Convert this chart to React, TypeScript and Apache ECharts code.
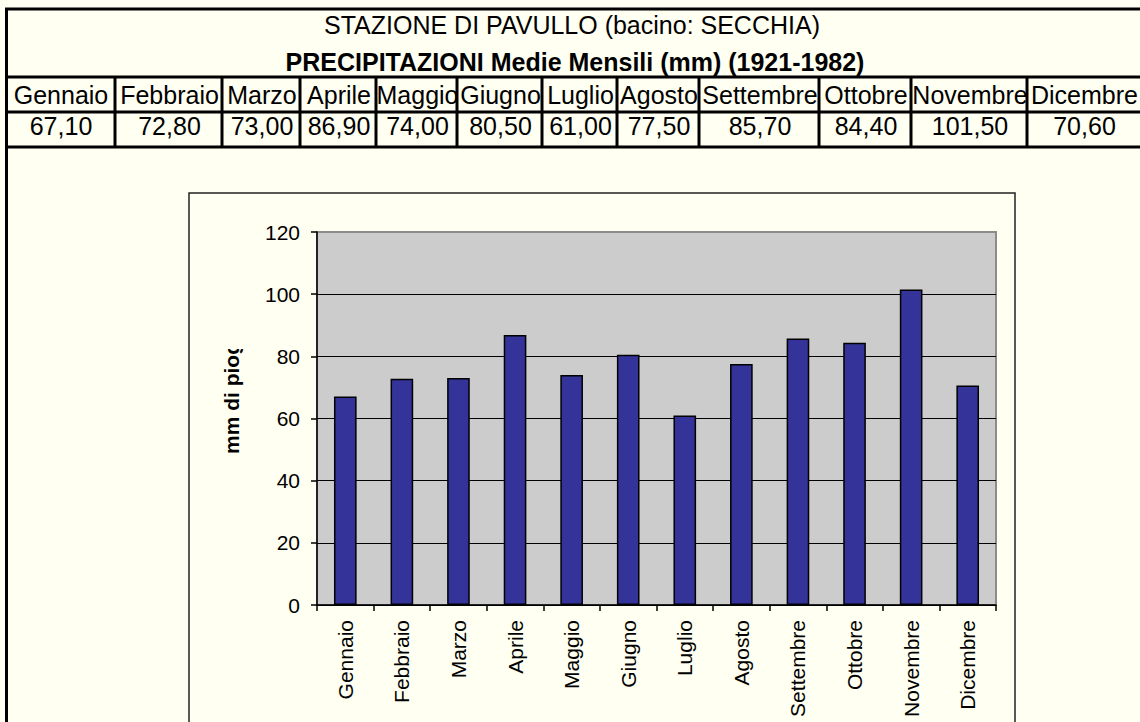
import React, { useEffect, useRef } from "react";
import * as echarts from "echarts";

// ---- data ----
const months = [
  "Gennaio", "Febbraio", "Marzo", "Aprile", "Maggio", "Giugno",
  "Luglio", "Agosto", "Settembre", "Ottobre", "Novembre", "Dicembre",
];
const rainfall = [67.1, 72.8, 73.0, 86.9, 74.0, 80.5, 61.0, 77.5, 85.7, 84.4, 101.5, 70.6];
const titleLine1 = "STAZIONE DI PAVULLO (bacino: SECCHIA)";
const titleLine2 = "PRECIPITAZIONI Medie Mensili (mm) (1921-1982)";
const yAxisName = "mm di pioggia";
const yMin = 0;
const yMax = 120;
const yStep = 20;

// ---- layout (page coordinates) ----
const COL_EDGES = [5, 115, 222, 300, 376, 457, 542, 617, 699, 819, 911, 1027, 1140];
const FONT = "'Liberation Sans', Arial, sans-serif";
const BG = "#FFFFF2";

function fmt(v: number): string {
  return v.toFixed(2).replace(".", ",");
}

export default function App() {
  const ref = useRef<HTMLDivElement>(null);

  useEffect(() => {
    document.body.style.margin = "0";
    document.body.style.background = BG;
    if (!ref.current) return;
    const chart = echarts.init(ref.current, null, { renderer: "svg" });

    const graphics: any[] = [];
    const line = (x1: number, y1: number, x2: number, y2: number, w = 3, color = "#000") =>
      graphics.push({
        type: "line",
        shape: { x1, y1, x2, y2 },
        style: { stroke: color, lineWidth: w },
        z: 10,
      });

    // table borders
    line(5, 9, 1140, 9);
    line(6.5, 8, 6.5, 722);
    line(5, 77, 1140, 77);
    line(5, 112, 1140, 112);
    line(5, 147, 1140, 147);
    for (let i = 1; i < COL_EDGES.length - 1; i++) {
      line(COL_EDGES[i], 77, COL_EDGES[i], 147);
    }

    // titles
    graphics.push({
      type: "text",
      x: 572,
      y: 25,
      style: { text: titleLine1, font: `25px ${FONT}`, fill: "#000", textAlign: "center", textVerticalAlign: "middle" },
      z: 10,
    });
    graphics.push({
      type: "text",
      x: 575,
      y: 62,
      style: { text: titleLine2, font: `bold 25px ${FONT}`, fill: "#000", textAlign: "center", textVerticalAlign: "middle" },
      z: 10,
    });

    // month headers and values
    months.forEach((m, i) => {
      const cx = (COL_EDGES[i] + COL_EDGES[i + 1]) / 2 + 1;
      graphics.push({
        type: "text",
        x: cx,
        y: 95,
        style: { text: m, font: `25px ${FONT}`, fill: "#000", textAlign: "center", textVerticalAlign: "middle" },
        z: 10,
      });
      graphics.push({
        type: "text",
        x: cx,
        y: 126,
        style: { text: fmt(rainfall[i]), font: `25px ${FONT}`, fill: "#000", textAlign: "center", textVerticalAlign: "middle" },
        z: 10,
      });
    });

    // chart frame
    graphics.push({
      type: "rect",
      shape: { x: 189, y: 193, width: 826, height: 600 },
      style: { fill: "none", stroke: "#222", lineWidth: 1.5 },
      z: 1,
    });

    // y-axis title (clipped like in the original)
    graphics.push({
      type: "text",
      x: 231,
      y: 454,
      rotation: Math.PI / 2,
      style: { text: yAxisName, font: `bold 21px ${FONT}`, fill: "#000", textAlign: "left", textVerticalAlign: "middle" },
      z: 5,
    });
    graphics.push({
      type: "rect",
      shape: { x: 210, y: 196, width: 45, height: 153 },
      style: { fill: BG, stroke: "none" },
      z: 6,
    });

    chart.setOption({
      animation: false,
      backgroundColor: BG,
      textStyle: { fontFamily: FONT },
      grid: {
        left: 317,
        top: 232,
        width: 679,
        height: 373,
        show: true,
        backgroundColor: "#CCCCCC",
        borderColor: "#8c8c8c",
        borderWidth: 2,
      },
      xAxis: {
        type: "category",
        data: months,
        boundaryGap: true,
        axisLine: { show: true, lineStyle: { color: "#000", width: 1.5 } },
        axisTick: { show: true, length: 6, inside: false, lineStyle: { color: "#000", width: 1.5 } },
        axisLabel: {
          interval: 0,
          rotate: 90,
          margin: 15,
          fontSize: 21,
          color: "#000",
          fontFamily: FONT,
        },
        splitLine: { show: false },
      },
      yAxis: {
        type: "value",
        min: yMin,
        max: yMax,
        interval: yStep,
        axisLine: { show: true, lineStyle: { color: "#000", width: 1.5 } },
        axisTick: { show: true, length: 6, inside: false, lineStyle: { color: "#000", width: 1.5 } },
        axisLabel: { fontSize: 21, color: "#000", margin: 17, fontFamily: FONT },
        splitLine: { show: true, showMaxLine: false, lineStyle: { color: "#000", width: 1.2 } },
      },
      series: [
        {
          type: "bar",
          data: rainfall,
          barWidth: "40%",
          itemStyle: { color: "#333399", borderColor: "#000", borderWidth: 1.5 },
          z: 3,
        },
      ],
      graphic: { elements: graphics },
    });

    return () => chart.dispose();
  }, []);

  return <div ref={ref} style={{ width: 1140, height: 722, background: BG }} />;
}
